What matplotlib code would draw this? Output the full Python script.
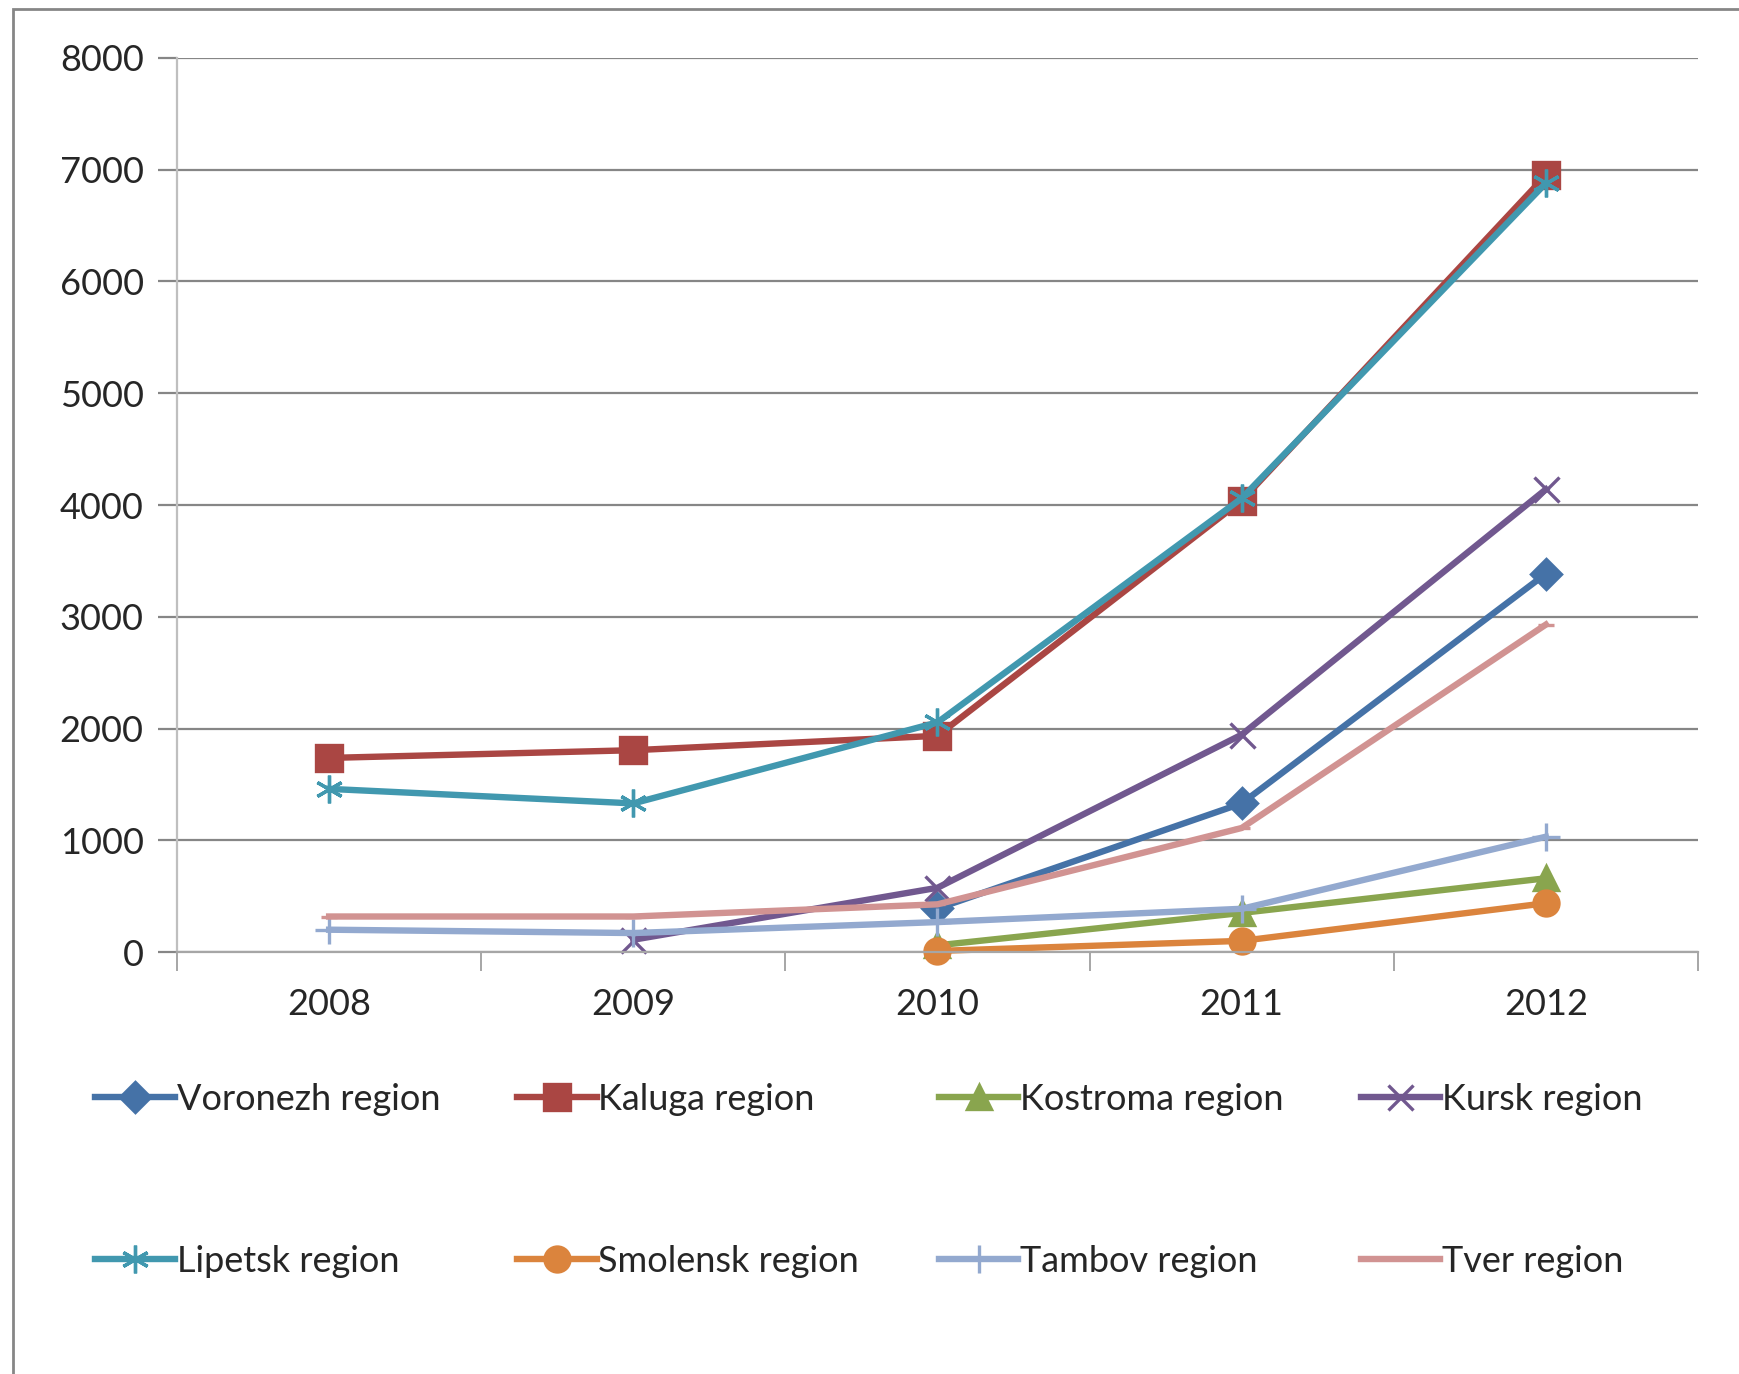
import matplotlib
matplotlib.use("Agg")
import matplotlib.pyplot as plt
from matplotlib.patches import Rectangle
import numpy as np

plt.rcParams['font.family'] = ['Lato', 'DejaVu Sans']

years = ['2008', '2009', '2010', '2011', '2012']
nan = np.nan

voronezh = [nan, nan, 390, 1330, 3385]
kaluga = [1737, 1806, 1935, 4040, 6950]
kostroma = [nan, nan, 60, 350, 660]
kursk = [nan, 110, 575, 1945, 4140]
lipetsk = [1460, 1330, 2055, 4060, 6880]
smolensk = [nan, nan, 10, 100, 437]
tambov = [200, 170, 268, 387, 1032]
tver = [318, 318, 427, 1110, 2930]

names = ['Voronezh region', 'Kaluga region', 'Kostroma region', 'Kursk region',
         'Lipetsk region', 'Smolensk region', 'Tambov region', 'Tver region']
series = [voronezh, kaluga, kostroma, kursk, lipetsk, smolensk, tambov, tver]
colors = ['#4572A7', '#AA4643', '#89A54E', '#71588F',
          '#4198AF', '#DB843D', '#93A9CF', '#D19392']
markers = ['D', 's', '^', 'x', (6, 2, 0), 'o', '+', '_']
msizes = [15, 19, 17, 18, 20, 18, 20, 12]

fig = plt.figure(figsize=(17.39, 13.74), dpi=100)
ax = fig.add_axes([0.1018, 0.3071, 0.8746, 0.6507])

x = np.arange(len(years))
lines = []
for vals, name, c, m, ms in zip(series, names, colors, markers, msizes):
    ln, = ax.plot(x, vals, color=c, lw=4.6, marker=m, markersize=ms,
                  markeredgewidth=2.4, markeredgecolor=c, markerfacecolor=c,
                  label=name, clip_on=False)
    lines.append(ln)

ax.set_xlim(-0.5, len(years) - 0.5)
ax.set_ylim(0, 8000)
ax.set_yticks(np.arange(0, 8001, 1000))
ax.yaxis.grid(True, color='#868686', lw=1.6)
ax.set_axisbelow(True)

ax.set_xticks(np.arange(-0.5, len(years), 1))
ax.set_xticklabels([])
ax.set_xticks(x, minor=True)
ax.set_xticklabels(years, minor=True)
ax.tick_params(axis='x', which='major', direction='out', length=14, width=1.4, color='#A6A6A6')
ax.tick_params(axis='x', which='minor', length=0, labelsize=26, pad=26, labelcolor='#262626')
ax.tick_params(axis='y', direction='out', length=14, width=1.6, color='#868686',
               labelsize=26, pad=10, labelcolor='#262626')

for s in ['top', 'right']:
    ax.spines[s].set_visible(False)
ax.spines['left'].set_color('#BFBFBF')
ax.spines['left'].set_linewidth(1.6)
ax.spines['bottom'].set_color('#A6A6A6')
ax.spines['bottom'].set_linewidth(1.6)

# legend entries laid out in a 4x2 grid like the original
for i, ln in enumerate(lines):
    col = i % 4
    row = i // 4
    fx = 0.0445 + col * 0.2425
    fy = 0.200 - row * 0.118
    fig.legend(handles=[ln], loc='center left', bbox_to_anchor=(fx, fy),
               frameon=False, fontsize=26, handlelength=2.2, handletextpad=0.05,
               borderpad=0, labelcolor='#262626')

fig.add_artist(Rectangle((13 / 1739, -0.01), 1.02, 1 - 9 / 1374 + 0.01,
                         transform=fig.transFigure, fill=False,
                         edgecolor='#868686', lw=2))

fig.savefig('out.png', dpi=100, facecolor='white')
